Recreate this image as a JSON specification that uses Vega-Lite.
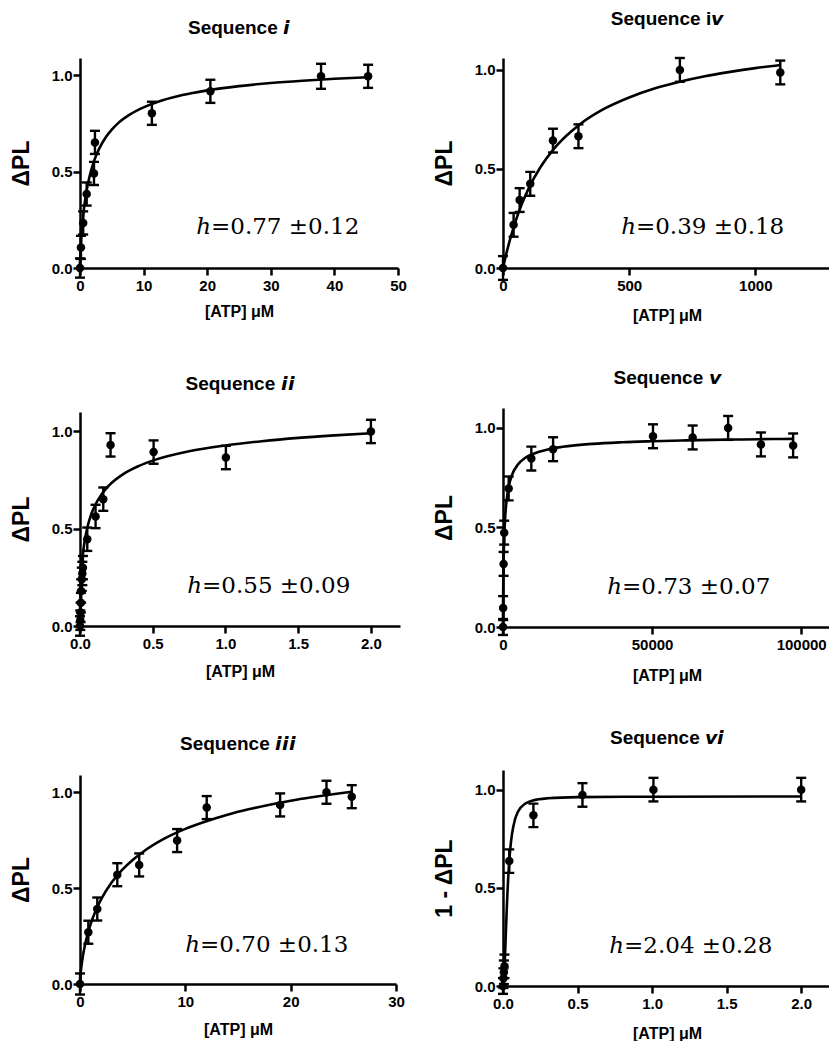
{
  "$schema": "https://vega.github.io/schema/vega-lite/v6.json",
  "padding": {"left": 10, "top": 9, "right": 0, "bottom": 0},
  "background": "white",
  "config": {
    "view": {"stroke": null},
    "axis": {"domainColor": "black", "domainWidth": 2.5, "tickColor": "black", "tickWidth": 2.5, "tickSize": 7, "labelFont": "Liberation Sans", "labelFontWeight": "bold", "labelFontSize": 15, "labelColor": "black", "titleFont": "Liberation Sans", "titleFontWeight": "bold", "titleColor": "black", "grid": false, "labelFlush": false, "labelOverlap": false},
    "axisX": {"titleFontSize": 16, "labelPadding": 3, "titlePadding": 8},
    "axisY": {"titleFontSize": 23, "labelPadding": 1, "titlePadding": 18},
    "title": {"font": "Liberation Sans", "fontSize": 19, "fontWeight": "bold", "color": "black", "anchor": "middle"},
    "errorbar": {"rule": {"color": "black", "opacity": 1, "strokeOpacity": 1}, "ticks": {"color": "black", "opacity": 1, "strokeOpacity": 1}},
    "concat": {"spacing": 26}
  },
  "datasets": {
    "p1pts": [{"x":0,"y":0,"err":0.05},{"x":0.15,"y":0.107,"err":0.06},{"x":0.5,"y":0.234,"err":0.06},{"x":1.05,"y":0.384,"err":0.06},{"x":2.2,"y":0.491,"err":0.06},{"x":2.35,"y":0.652,"err":0.06},{"x":11.3,"y":0.803,"err":0.06},{"x":20.5,"y":0.917,"err":0.06},{"x":37.9,"y":0.995,"err":0.065},{"x":45.3,"y":0.995,"err":0.06}],
    "p1fit": [{"x":0,"y":0},{"x":0.01,"y":0.0175},{"x":0.05,"y":0.058},{"x":0.1,"y":0.096},{"x":0.2,"y":0.154},{"x":0.35,"y":0.22},{"x":0.5,"y":0.272},{"x":0.75,"y":0.34},{"x":1,"y":0.394},{"x":1.5,"y":0.475},{"x":2,"y":0.534},{"x":2.5,"y":0.581},{"x":3,"y":0.618},{"x":4,"y":0.676},{"x":5,"y":0.718},{"x":6,"y":0.752},{"x":8,"y":0.8},{"x":10,"y":0.834},{"x":12.5,"y":0.866},{"x":15,"y":0.889},{"x":17.5,"y":0.907},{"x":20,"y":0.922},{"x":25,"y":0.944},{"x":30,"y":0.96},{"x":35,"y":0.972},{"x":40,"y":0.982},{"x":45.3,"y":0.99}],
    "p2pts": [{"x":0,"y":0,"err":0.06},{"x":42,"y":0.218,"err":0.06},{"x":66,"y":0.343,"err":0.06},{"x":108,"y":0.425,"err":0.06},{"x":198,"y":0.643,"err":0.06},{"x":299,"y":0.665,"err":0.06},{"x":701,"y":1.0,"err":0.06},{"x":1099,"y":0.987,"err":0.06}],
    "p2fit": [{"x":0,"y":0},{"x":10,"y":0.056},{"x":25,"y":0.131},{"x":50,"y":0.237},{"x":75,"y":0.324},{"x":100,"y":0.397},{"x":150,"y":0.512},{"x":200,"y":0.599},{"x":250,"y":0.666},{"x":300,"y":0.721},{"x":400,"y":0.803},{"x":500,"y":0.861},{"x":600,"y":0.906},{"x":700,"y":0.94},{"x":800,"y":0.968},{"x":900,"y":0.99},{"x":1000,"y":1.009},{"x":1100,"y":1.025}],
    "p3pts": [{"x":0,"y":0,"err":0.05},{"x":0.002,"y":0.03,"err":0.05},{"x":0.004,"y":0.07,"err":0.05},{"x":0.006,"y":0.12,"err":0.05},{"x":0.008,"y":0.18,"err":0.06},{"x":0.012,"y":0.24,"err":0.06},{"x":0.016,"y":0.27,"err":0.06},{"x":0.02,"y":0.3,"err":0.06},{"x":0.05,"y":0.446,"err":0.06},{"x":0.107,"y":0.563,"err":0.06},{"x":0.16,"y":0.652,"err":0.06},{"x":0.21,"y":0.931,"err":0.06},{"x":0.506,"y":0.894,"err":0.06},{"x":1.003,"y":0.866,"err":0.06},{"x":2.0,"y":1.0,"err":0.06}],
    "p3fit": [{"x":0,"y":0},{"x":0.001,"y":0.096},{"x":0.003,"y":0.164},{"x":0.006,"y":0.225},{"x":0.01,"y":0.28},{"x":0.02,"y":0.369},{"x":0.03,"y":0.427},{"x":0.05,"y":0.505},{"x":0.075,"y":0.57},{"x":0.1,"y":0.615},{"x":0.15,"y":0.679},{"x":0.2,"y":0.723},{"x":0.3,"y":0.782},{"x":0.4,"y":0.821},{"x":0.5,"y":0.85},{"x":0.75,"y":0.898},{"x":1,"y":0.928},{"x":1.25,"y":0.95},{"x":1.5,"y":0.967},{"x":1.75,"y":0.98},{"x":2,"y":0.991}],
    "p4pts": [{"x":0,"y":0,"err":0.04},{"x":50,"y":0.095,"err":0.06},{"x":200,"y":0.317,"err":0.06},{"x":400,"y":0.474,"err":0.06},{"x":1900,"y":0.696,"err":0.06},{"x":9500,"y":0.846,"err":0.06},{"x":16800,"y":0.893,"err":0.06},{"x":50300,"y":0.958,"err":0.06},{"x":63600,"y":0.952,"err":0.06},{"x":75500,"y":1.0,"err":0.06},{"x":86500,"y":0.917,"err":0.06},{"x":97300,"y":0.912,"err":0.06}],
    "p4fit": [{"x":0,"y":0},{"x":20,"y":0.086},{"x":50,"y":0.154},{"x":100,"y":0.231},{"x":200,"y":0.331},{"x":400,"y":0.448},{"x":700,"y":0.546},{"x":1000,"y":0.606},{"x":1500,"y":0.67},{"x":2000,"y":0.711},{"x":3000,"y":0.763},{"x":5000,"y":0.816},{"x":7500,"y":0.85},{"x":10000,"y":0.869},{"x":15000,"y":0.892},{"x":20000,"y":0.905},{"x":30000,"y":0.92},{"x":40000,"y":0.928},{"x":50000,"y":0.933},{"x":60000,"y":0.937},{"x":70000,"y":0.94},{"x":80000,"y":0.942},{"x":90000,"y":0.944},{"x":97000,"y":0.945}],
    "p5pts": [{"x":0,"y":0,"err":0.055},{"x":0.79,"y":0.27,"err":0.06},{"x":1.64,"y":0.391,"err":0.06},{"x":3.54,"y":0.57,"err":0.06},{"x":5.62,"y":0.621,"err":0.06},{"x":9.22,"y":0.748,"err":0.06},{"x":12.03,"y":0.92,"err":0.06},{"x":19.0,"y":0.934,"err":0.06},{"x":23.4,"y":1.0,"err":0.06},{"x":25.8,"y":0.977,"err":0.06}],
    "p5fit": [{"x":0,"y":0},{"x":0.05,"y":0.048},{"x":0.15,"y":0.099},{"x":0.3,"y":0.154},{"x":0.5,"y":0.21},{"x":0.75,"y":0.265},{"x":1,"y":0.311},{"x":1.5,"y":0.383},{"x":2,"y":0.441},{"x":3,"y":0.529},{"x":4,"y":0.595},{"x":5,"y":0.647},{"x":6,"y":0.69},{"x":8,"y":0.758},{"x":10,"y":0.809},{"x":12,"y":0.849},{"x":14,"y":0.883},{"x":16,"y":0.911},{"x":18,"y":0.935},{"x":20,"y":0.956},{"x":22,"y":0.974},{"x":24,"y":0.99},{"x":25.8,"y":1.003}],
    "p6pts": [{"x":0,"y":0,"err":0.04},{"x":0.003,"y":0.04,"err":0.05},{"x":0.006,"y":0.07,"err":0.06},{"x":0.01,"y":0.1,"err":0.06},{"x":0.042,"y":0.636,"err":0.06},{"x":0.204,"y":0.869,"err":0.06},{"x":0.533,"y":0.973,"err":0.06},{"x":1.009,"y":1.0,"err":0.06},{"x":2.0,"y":1.0,"err":0.06}],
    "p6fit": [{"x":0,"y":0},{"x":0.005,"y":0.024},{"x":0.01,"y":0.091},{"x":0.015,"y":0.185},{"x":0.02,"y":0.288},{"x":0.025,"y":0.388},{"x":0.03,"y":0.476},{"x":0.04,"y":0.614},{"x":0.05,"y":0.708},{"x":0.06,"y":0.772},{"x":0.08,"y":0.847},{"x":0.1,"y":0.887},{"x":0.15,"y":0.929},{"x":0.2,"y":0.945},{"x":0.3,"y":0.956},{"x":0.5,"y":0.962},{"x":1,"y":0.964},{"x":2,"y":0.965}]
  },
  "hconcat": [
    {
      "spacing": 56,
      "vconcat": [
        {
          "width": 318, "height": 210,
          "title": {"text": "Sequence \ud835\ude5e", "offset": 20},
          "layer": [
            {"data": {"name": "p1fit"}, "mark": {"type": "line", "color": "black", "strokeWidth": 2.6, "interpolate": "monotone"},
             "encoding": {"x": {"field": "x", "type": "quantitative", "scale": {"domain": [0, 50], "nice": false}, "axis": {"values": [0, 10, 20, 30, 40, 50], "format": "d", "title": "[ATP] μM", "titlePadding": 10}},
                          "y": {"field": "y", "type": "quantitative", "scale": {"domain": [0, 1.09], "nice": false}, "axis": {"values": [0, 0.5, 1], "format": ".1f", "title": "ΔPL"}}}},
            {"data": {"name": "p1pts"}, "mark": {"type": "errorbar", "ticks": true, "size": 10, "thickness": 2.4, "color": "black", "opacity": 1},
             "encoding": {"x": {"field": "x", "type": "quantitative", "scale": {"domain": [0, 50], "nice": false}, "axis": {"values": [0, 10, 20, 30, 40, 50], "format": "d", "title": "[ATP] μM", "titlePadding": 10}},
                          "y": {"field": "y", "type": "quantitative", "scale": {"domain": [0, 1.09], "nice": false}, "axis": {"values": [0, 0.5, 1], "format": ".1f", "title": "ΔPL"}},
                          "yError": {"field": "err"}}},
            {"data": {"name": "p1pts"}, "mark": {"type": "circle", "size": 72, "color": "black", "opacity": 1},
             "encoding": {"x": {"field": "x", "type": "quantitative", "scale": {"domain": [0, 50], "nice": false}, "axis": {"values": [0, 10, 20, 30, 40, 50], "format": "d", "title": "[ATP] μM", "titlePadding": 10}},
                          "y": {"field": "y", "type": "quantitative", "scale": {"domain": [0, 1.09], "nice": false}, "axis": {"values": [0, 0.5, 1], "format": ".1f", "title": "ΔPL"}}}},
            {"data": {"values": [{}]}, "mark": {"type": "text", "text": "h", "font": "DejaVu Serif", "fontStyle": "italic", "fontSize": 23, "align": "right", "baseline": "alphabetic", "color": "black"},
             "encoding": {"x": {"datum": 20.6, "type": "quantitative"}, "y": {"datum": 0.177, "type": "quantitative"}}},
            {"data": {"values": [{}]}, "mark": {"type": "text", "text": "=0.77 ±0.12", "font": "DejaVu Serif", "fontSize": 23, "align": "left", "baseline": "alphabetic", "color": "black"},
             "encoding": {"x": {"datum": 20.6, "type": "quantitative"}, "y": {"datum": 0.177, "type": "quantitative"}}}
          ]
        },
        {
          "width": 320, "height": 214,
          "title": {"text": "Sequence \ud835\ude5e\ud835\ude5e", "offset": 18},
          "layer": [
            {"data": {"name": "p3fit"}, "mark": {"type": "line", "color": "black", "strokeWidth": 2.6, "interpolate": "monotone"},
             "encoding": {"x": {"field": "x", "type": "quantitative", "scale": {"domain": [0, 2.2], "nice": false}, "axis": {"values": [0, 0.5, 1, 1.5, 2], "format": ".1f", "title": "[ATP] μM", "titlePadding": 12}},
                          "y": {"field": "y", "type": "quantitative", "scale": {"domain": [0, 1.1], "nice": false}, "axis": {"values": [0, 0.5, 1], "format": ".1f", "title": "ΔPL"}}}},
            {"data": {"name": "p3pts"}, "mark": {"type": "errorbar", "ticks": true, "size": 10, "thickness": 2.4, "color": "black", "opacity": 1},
             "encoding": {"x": {"field": "x", "type": "quantitative", "scale": {"domain": [0, 2.2], "nice": false}, "axis": {"values": [0, 0.5, 1, 1.5, 2], "format": ".1f", "title": "[ATP] μM", "titlePadding": 12}},
                          "y": {"field": "y", "type": "quantitative", "scale": {"domain": [0, 1.1], "nice": false}, "axis": {"values": [0, 0.5, 1], "format": ".1f", "title": "ΔPL"}},
                          "yError": {"field": "err"}}},
            {"data": {"name": "p3pts"}, "mark": {"type": "circle", "size": 72, "color": "black", "opacity": 1},
             "encoding": {"x": {"field": "x", "type": "quantitative", "scale": {"domain": [0, 2.2], "nice": false}, "axis": {"values": [0, 0.5, 1, 1.5, 2], "format": ".1f", "title": "[ATP] μM", "titlePadding": 12}},
                          "y": {"field": "y", "type": "quantitative", "scale": {"domain": [0, 1.1], "nice": false}, "axis": {"values": [0, 0.5, 1], "format": ".1f", "title": "ΔPL"}}}},
            {"data": {"values": [{}]}, "mark": {"type": "text", "text": "h", "font": "DejaVu Serif", "fontStyle": "italic", "fontSize": 23, "align": "right", "baseline": "alphabetic", "color": "black"},
             "encoding": {"x": {"datum": 0.839, "type": "quantitative"}, "y": {"datum": 0.169, "type": "quantitative"}}},
            {"data": {"values": [{}]}, "mark": {"type": "text", "text": "=0.55 ±0.09", "font": "DejaVu Serif", "fontSize": 23, "align": "left", "baseline": "alphabetic", "color": "black"},
             "encoding": {"x": {"datum": 0.839, "type": "quantitative"}, "y": {"datum": 0.169, "type": "quantitative"}}}
          ]
        },
        {
          "width": 316, "height": 209,
          "title": {"text": "Sequence \ud835\ude5e\ud835\ude5e\ud835\ude5e", "offset": 21},
          "layer": [
            {"data": {"name": "p5fit"}, "mark": {"type": "line", "color": "black", "strokeWidth": 2.6, "interpolate": "monotone"},
             "encoding": {"x": {"field": "x", "type": "quantitative", "scale": {"domain": [0, 30], "nice": false}, "axis": {"values": [0, 10, 20, 30], "format": "d", "title": "[ATP] μM", "titlePadding": 12}},
                          "y": {"field": "y", "type": "quantitative", "scale": {"domain": [0, 1.09], "nice": false}, "axis": {"values": [0, 0.5, 1], "format": ".1f", "title": "ΔPL"}}}},
            {"data": {"name": "p5pts"}, "mark": {"type": "errorbar", "ticks": true, "size": 10, "thickness": 2.4, "color": "black", "opacity": 1},
             "encoding": {"x": {"field": "x", "type": "quantitative", "scale": {"domain": [0, 30], "nice": false}, "axis": {"values": [0, 10, 20, 30], "format": "d", "title": "[ATP] μM", "titlePadding": 12}},
                          "y": {"field": "y", "type": "quantitative", "scale": {"domain": [0, 1.09], "nice": false}, "axis": {"values": [0, 0.5, 1], "format": ".1f", "title": "ΔPL"}},
                          "yError": {"field": "err"}}},
            {"data": {"name": "p5pts"}, "mark": {"type": "circle", "size": 72, "color": "black", "opacity": 1},
             "encoding": {"x": {"field": "x", "type": "quantitative", "scale": {"domain": [0, 30], "nice": false}, "axis": {"values": [0, 10, 20, 30], "format": "d", "title": "[ATP] μM", "titlePadding": 12}},
                          "y": {"field": "y", "type": "quantitative", "scale": {"domain": [0, 1.09], "nice": false}, "axis": {"values": [0, 0.5, 1], "format": ".1f", "title": "ΔPL"}}}},
            {"data": {"values": [{}]}, "mark": {"type": "text", "text": "h", "font": "DejaVu Serif", "fontStyle": "italic", "fontSize": 23, "align": "right", "baseline": "alphabetic", "color": "black"},
             "encoding": {"x": {"datum": 11.4, "type": "quantitative"}, "y": {"datum": 0.165, "type": "quantitative"}}},
            {"data": {"values": [{}]}, "mark": {"type": "text", "text": "=0.70 ±0.13", "font": "DejaVu Serif", "fontSize": 23, "align": "left", "baseline": "alphabetic", "color": "black"},
             "encoding": {"x": {"datum": 11.4, "type": "quantitative"}, "y": {"datum": 0.165, "type": "quantitative"}}}
          ]
        }
      ]
    },
    {
      "spacing": 46,
      "vconcat": [
        {
          "width": 328, "height": 210,
          "title": {"text": "Sequence i\ud835\ude6b", "offset": 28},
          "layer": [
            {"data": {"name": "p2fit"}, "mark": {"type": "line", "color": "black", "strokeWidth": 2.6, "interpolate": "monotone"},
             "encoding": {"x": {"field": "x", "type": "quantitative", "scale": {"domain": [0, 1300], "nice": false}, "axis": {"values": [0, 500, 1000], "format": "d", "title": "[ATP] μM", "titlePadding": 14}},
                          "y": {"field": "y", "type": "quantitative", "scale": {"domain": [0, 1.06], "nice": false}, "axis": {"values": [0, 0.5, 1], "format": ".1f", "title": "ΔPL"}}}},
            {"data": {"name": "p2pts"}, "mark": {"type": "errorbar", "ticks": true, "size": 10, "thickness": 2.4, "color": "black", "opacity": 1},
             "encoding": {"x": {"field": "x", "type": "quantitative", "scale": {"domain": [0, 1300], "nice": false}, "axis": {"values": [0, 500, 1000], "format": "d", "title": "[ATP] μM", "titlePadding": 14}},
                          "y": {"field": "y", "type": "quantitative", "scale": {"domain": [0, 1.06], "nice": false}, "axis": {"values": [0, 0.5, 1], "format": ".1f", "title": "ΔPL"}},
                          "yError": {"field": "err"}}},
            {"data": {"name": "p2pts"}, "mark": {"type": "circle", "size": 72, "color": "black", "opacity": 1},
             "encoding": {"x": {"field": "x", "type": "quantitative", "scale": {"domain": [0, 1300], "nice": false}, "axis": {"values": [0, 500, 1000], "format": "d", "title": "[ATP] μM", "titlePadding": 14}},
                          "y": {"field": "y", "type": "quantitative", "scale": {"domain": [0, 1.06], "nice": false}, "axis": {"values": [0, 0.5, 1], "format": ".1f", "title": "ΔPL"}}}},
            {"data": {"values": [{}]}, "mark": {"type": "text", "text": "h", "font": "DejaVu Serif", "fontStyle": "italic", "fontSize": 23, "align": "right", "baseline": "alphabetic", "color": "black"},
             "encoding": {"x": {"datum": 527, "type": "quantitative"}, "y": {"datum": 0.17, "type": "quantitative"}}},
            {"data": {"values": [{}]}, "mark": {"type": "text", "text": "=0.39 ±0.18", "font": "DejaVu Serif", "fontSize": 23, "align": "left", "baseline": "alphabetic", "color": "black"},
             "encoding": {"x": {"datum": 527, "type": "quantitative"}, "y": {"datum": 0.17, "type": "quantitative"}}}
          ]
        },
        {
          "width": 328, "height": 219,
          "title": {"text": "Sequence \ud835\ude6b", "offset": 20},
          "layer": [
            {"data": {"name": "p4fit"}, "mark": {"type": "line", "color": "black", "strokeWidth": 2.6, "interpolate": "monotone"},
             "encoding": {"x": {"field": "x", "type": "quantitative", "scale": {"domain": [0, 110000], "nice": false}, "axis": {"values": [0, 50000, 100000], "format": "d", "title": "[ATP] μM", "titlePadding": 15}},
                          "y": {"field": "y", "type": "quantitative", "scale": {"domain": [0, 1.1], "nice": false}, "axis": {"values": [0, 0.5, 1], "format": ".1f", "title": "ΔPL"}}}},
            {"data": {"name": "p4pts"}, "mark": {"type": "errorbar", "ticks": true, "size": 10, "thickness": 2.4, "color": "black", "opacity": 1},
             "encoding": {"x": {"field": "x", "type": "quantitative", "scale": {"domain": [0, 110000], "nice": false}, "axis": {"values": [0, 50000, 100000], "format": "d", "title": "[ATP] μM", "titlePadding": 15}},
                          "y": {"field": "y", "type": "quantitative", "scale": {"domain": [0, 1.1], "nice": false}, "axis": {"values": [0, 0.5, 1], "format": ".1f", "title": "ΔPL"}},
                          "yError": {"field": "err"}}},
            {"data": {"name": "p4pts"}, "mark": {"type": "circle", "size": 72, "color": "black", "opacity": 1},
             "encoding": {"x": {"field": "x", "type": "quantitative", "scale": {"domain": [0, 110000], "nice": false}, "axis": {"values": [0, 50000, 100000], "format": "d", "title": "[ATP] μM", "titlePadding": 15}},
                          "y": {"field": "y", "type": "quantitative", "scale": {"domain": [0, 1.1], "nice": false}, "axis": {"values": [0, 0.5, 1], "format": ".1f", "title": "ΔPL"}}}},
            {"data": {"values": [{}]}, "mark": {"type": "text", "text": "h", "font": "DejaVu Serif", "fontStyle": "italic", "fontSize": 23, "align": "right", "baseline": "alphabetic", "color": "black"},
             "encoding": {"x": {"datum": 39910, "type": "quantitative"}, "y": {"datum": 0.167, "type": "quantitative"}}},
            {"data": {"values": [{}]}, "mark": {"type": "text", "text": "=0.73 ±0.07", "font": "DejaVu Serif", "fontSize": 23, "align": "left", "baseline": "alphabetic", "color": "black"},
             "encoding": {"x": {"datum": 39910, "type": "quantitative"}, "y": {"datum": 0.167, "type": "quantitative"}}}
          ]
        },
        {
          "width": 328, "height": 216,
          "title": {"text": "Sequence \ud835\ude6b\ud835\ude5e", "offset": 22},
          "layer": [
            {"data": {"name": "p6fit"}, "mark": {"type": "line", "color": "black", "strokeWidth": 2.6, "interpolate": "monotone"},
             "encoding": {"x": {"field": "x", "type": "quantitative", "scale": {"domain": [0, 2.2], "nice": false}, "axis": {"values": [0, 0.5, 1, 1.5, 2], "format": ".1f", "title": "[ATP] μM", "titlePadding": 14}},
                          "y": {"field": "y", "type": "quantitative", "scale": {"domain": [0, 1.1], "nice": false}, "axis": {"values": [0, 0.5, 1], "format": ".1f", "title": "1 - ΔPL"}}}},
            {"data": {"name": "p6pts"}, "mark": {"type": "errorbar", "ticks": true, "size": 10, "thickness": 2.4, "color": "black", "opacity": 1},
             "encoding": {"x": {"field": "x", "type": "quantitative", "scale": {"domain": [0, 2.2], "nice": false}, "axis": {"values": [0, 0.5, 1, 1.5, 2], "format": ".1f", "title": "[ATP] μM", "titlePadding": 14}},
                          "y": {"field": "y", "type": "quantitative", "scale": {"domain": [0, 1.1], "nice": false}, "axis": {"values": [0, 0.5, 1], "format": ".1f", "title": "1 - ΔPL"}},
                          "yError": {"field": "err"}}},
            {"data": {"name": "p6pts"}, "mark": {"type": "circle", "size": 72, "color": "black", "opacity": 1},
             "encoding": {"x": {"field": "x", "type": "quantitative", "scale": {"domain": [0, 2.2], "nice": false}, "axis": {"values": [0, 0.5, 1, 1.5, 2], "format": ".1f", "title": "[ATP] μM", "titlePadding": 14}},
                          "y": {"field": "y", "type": "quantitative", "scale": {"domain": [0, 1.1], "nice": false}, "axis": {"values": [0, 0.5, 1], "format": ".1f", "title": "1 - ΔPL"}}}},
            {"data": {"values": [{}]}, "mark": {"type": "text", "text": "h", "font": "DejaVu Serif", "fontStyle": "italic", "fontSize": 23, "align": "right", "baseline": "alphabetic", "color": "black"},
             "encoding": {"x": {"datum": 0.812, "type": "quantitative"}, "y": {"datum": 0.17, "type": "quantitative"}}},
            {"data": {"values": [{}]}, "mark": {"type": "text", "text": "=2.04 ±0.28", "font": "DejaVu Serif", "fontSize": 23, "align": "left", "baseline": "alphabetic", "color": "black"},
             "encoding": {"x": {"datum": 0.812, "type": "quantitative"}, "y": {"datum": 0.17, "type": "quantitative"}}}
          ]
        }
      ]
    }
  ]
}
